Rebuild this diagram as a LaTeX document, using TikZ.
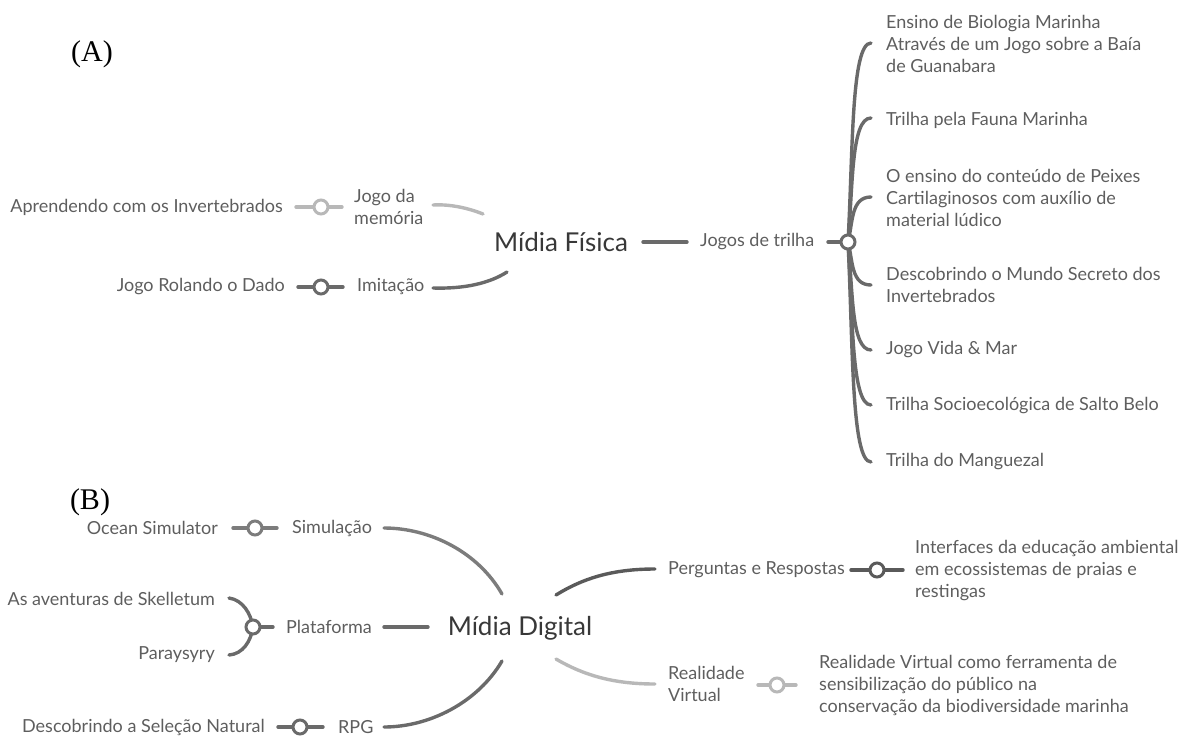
\documentclass[tikz,border=0pt]{standalone}
\usepackage{fontspec}
\setmainfont{Lato}
\newfontfamily\serifabc{Liberation Serif}
\definecolor{txt}{HTML}{5E5E5E}
\definecolor{ttl}{HTML}{383838}
\definecolor{lite}{HTML}{B8B8B8}
\definecolor{mid}{HTML}{7C7C7C}
\definecolor{drk}{HTML}{6A6A6A}
\definecolor{drkr}{HTML}{5A5A5A}
\tikzset{
  lbl/.style={font=\fontsize{18}{22}\selectfont, text=txt, inner sep=0pt, align=left},
  lblr/.style={lbl, anchor=east, align=right},
  lbll/.style={lbl, anchor=west},
  ttlnode/.style={font=\fontsize{26}{30}\selectfont, text=ttl, inner sep=0pt},
  con/.style={line width=3.4pt, line cap=round},
  knob/.style={circle, draw, line width=3pt, fill=white, minimum size=14pt, inner sep=0pt},
  tag/.style={font=\serifabc\fontsize{30}{34}\selectfont, inner sep=0pt}
}
\begin{document}
\begin{tikzpicture}[x=1pt,y=-1pt]
\useasboundingbox (0,0) rectangle (1183,736);

% ---------- (A) ----------
\node[tag] (tagA) at (92,54) {(A)};
\node[ttlnode] (mf) at (561,242) {Mídia Física};

\node[lblr] (apr) at (283,207) {Aprendendo com os Invertebrados};
\node[lbll] (jm) at (354,207) {Jogo da\\memória};
\node[lblr] (jrd) at (285,287) {Jogo Rolando o Dado};
\node[lbll] (imi) at (357,287) {Imitação};

\draw[con,lite] (296,207) -- (342,207);
\node[knob,draw=lite] (k1) at (321,207) {};
\draw[con,drk] (298,287) -- (343,287);
\node[knob,draw=drk] (k2) at (321,287) {};

\coordinate (mfa) at (483,214);
\coordinate (mfb) at (507,272);
\draw[con,lite] (433,205) .. controls (450,204) and (468,208) .. (mfa);
\draw[con,drk] (433,288) .. controls (465,289) and (490,283) .. (mfb);

\node[lbll] (jt) at (700,242) {Jogos de trilha};
\draw[con,drk] (643,242) -- (687,242);

\node[lbll] (c1) at (886,44) {Ensino de Biologia Marinha\\Através de um Jogo sobre a Baía\\de Guanabara};
\node[lbll] (c2) at (886,120) {Trilha pela Fauna Marinha};
\node[lbll] (c3) at (886,198) {O ensino do conteúdo de Peixes\\Cartilaginosos com auxílio de\\material lúdico};
\node[lbll] (c4) at (886,285) {Descobrindo o Mundo Secreto dos\\Invertebrados};
\node[lbll] (c5) at (886,350) {Jogo Vida \& Mar};
\node[lbll] (c6) at (886,406) {Trilha Socioecológica de Salto Belo};
\node[lbll] (c7) at (886,462) {Trilha do Manguezal};

\coordinate (kt) at (848,242);
\foreach \ye in {43,118,197}{
  \draw[con,drk] (kt) .. controls (853,{\ye+0.55*(242-\ye)}) and (851,\ye) .. (871,\ye);
}
\foreach \ye in {285,350,405,462}{
  \draw[con,drk] (kt) .. controls (853,{\ye-0.55*(\ye-242)}) and (851,\ye) .. (871,\ye);
}
\draw[con,drk] (828,242) -- (kt);
\node[knob,draw=drk] (k3) at (kt) {};

% ---------- (B) ----------
\node[tag] (tagB) at (90,502) {(B)};
\node[ttlnode] (md) at (520,628) {Mídia Digital};

\node[lblr] (oce) at (218,528) {Ocean Simulator};
\node[lbll] (sim) at (292,528) {Simulação};
\draw[con,mid] (233,528) -- (277,528);
\node[knob,draw=mid] (k4) at (255,528) {};
\draw[con,mid] (384,528) .. controls (430,528) and (478,552) .. (502,594);

\node[lblr] (ske) at (215,599) {As aventuras de Skelletum};
\node[lblr] (par) at (215,655) {Paraysyry};
\node[lbll] (pla) at (286,627) {Plataforma};
\coordinate (kp) at (253,627);
\draw[con,drk] (229,598) .. controls (243,600) and (251,614) .. (kp);
\draw[con,drk] (kp) .. controls (251,641) and (243,654) .. (229,655);
\draw[con,drk] (kp) -- (273,627);
\node[knob,draw=drk] (k5) at (kp) {};
\draw[con,drk] (384,627) -- (428,627);

\node[lblr] (dsn) at (265,727) {Descobrindo a Seleção Natural};
\node[lbll] (rpg) at (338,727) {RPG};
\draw[con,drk] (278,727) -- (323,727);
\node[knob,draw=drk] (k6) at (300,727) {};
\draw[con,drk] (384,727) .. controls (430,727) and (478,702) .. (502,661);

\node[lbll] (per) at (668,570) {Perguntas e Respostas};
\node[lbll] (int) at (915,571) {Interfaces da educação ambiental\\em ecossistemas de praias e\\restingas};
\draw[con,drkr] (556,595) .. controls (585,577) and (615,569) .. (655,569);
\draw[con,drkr] (851,570) -- (903,570);
\node[knob,draw=drkr] (k7) at (877,570) {};

\node[lbll] (rv) at (668,684) {Realidade\\Virtual};
\node[lbll] (rvt) at (819,685) {Realidade Virtual como ferramenta de\\sensibilização do público na\\conservação da biodiversidade marinha};
\draw[con,lite] (556,659) .. controls (585,676) and (615,684) .. (655,684);
\draw[con,lite] (758,685) -- (796,685);
\node[knob,draw=lite] (k8) at (777,685) {};
\end{tikzpicture}
\end{document}
